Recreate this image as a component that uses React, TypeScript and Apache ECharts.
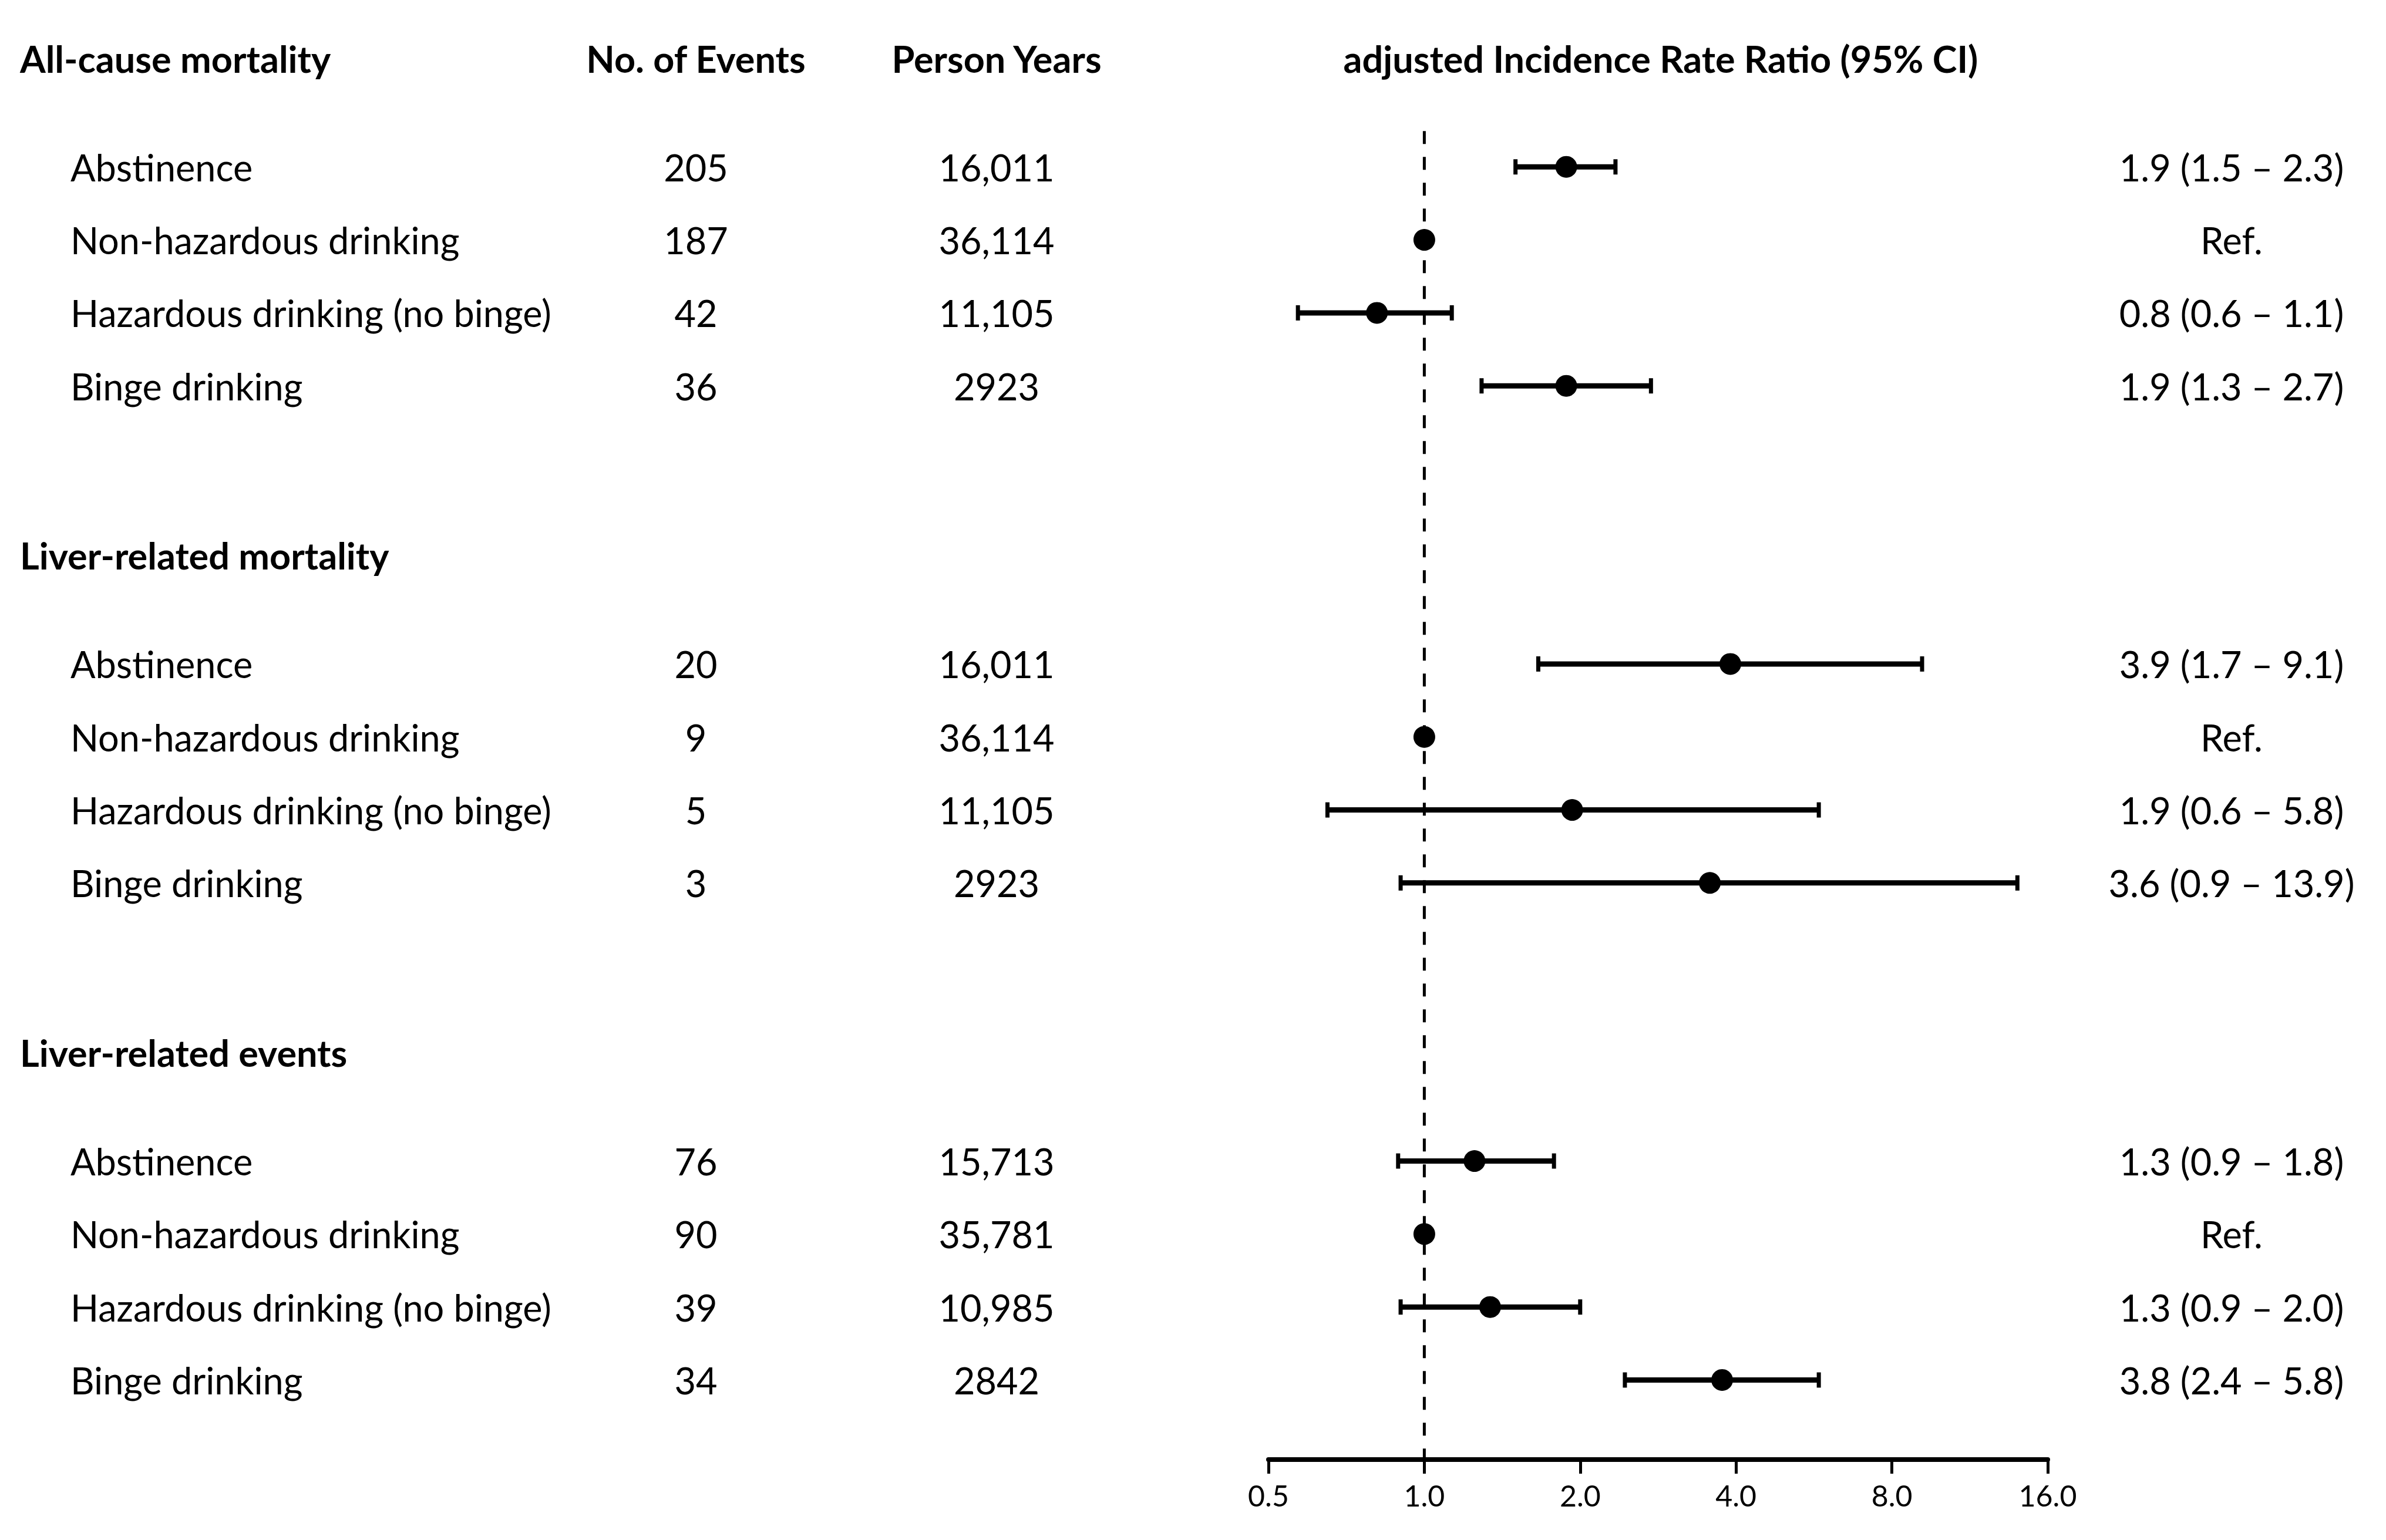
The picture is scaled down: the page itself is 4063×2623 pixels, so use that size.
import React, { useEffect, useRef } from "react";
import * as echarts from "echarts";

// ---------- data ----------
const sectionTitles = ["All-cause mortality", "Liver-related mortality", "Liver-related events"];
const groupLabels = ["Abstinence", "Non-hazardous drinking", "Hazardous drinking (no binge)", "Binge drinking"];
const columnHeaders = ["No. of Events", "Person Years", "adjusted Incidence Rate Ratio (95% CI)"];

const eventsAllCause = ["205", "187", "42", "36"];
const eventsLiverMortality = ["20", "9", "5", "3"];
const eventsLiverEvents = ["76", "90", "39", "34"];

const personYearsAllCause = ["16,011", "36,114", "11,105", "2923"];
const personYearsLiverMortality = ["16,011", "36,114", "11,105", "2923"];
const personYearsLiverEvents = ["15,713", "35,781", "10,985", "2842"];

const irrAllCause = [1.88, 1, 0.81, 1.88];
const lowAllCause = [1.5, null, 0.57, 1.29];
const highAllCause = [2.34, null, 1.13, 2.74];

const irrLiverMortality = [3.9, 1, 1.93, 3.56];
const lowLiverMortality = [1.66, null, 0.65, 0.9];
const highLiverMortality = [9.15, null, 5.78, 13.98];

const irrLiverEvents = [1.25, 1, 1.34, 3.76];
const lowLiverEvents = [0.89, null, 0.9, 2.44];
const highLiverEvents = [1.78, null, 2.0, 5.78];

const ciLabelsAllCause = ["1.9 (1.5 – 2.3)", "Ref.", "0.8 (0.6 – 1.1)", "1.9 (1.3 – 2.7)"];
const ciLabelsLiverMortality = ["3.9 (1.7 – 9.1)", "Ref.", "1.9 (0.6 – 5.8)", "3.6 (0.9 – 13.9)"];
const ciLabelsLiverEvents = ["1.3 (0.9 – 1.8)", "Ref.", "1.3 (0.9 – 2.0)", "3.8 (2.4 – 5.8)"];

const xTickLabels = ["0.5", "1.0", "2.0", "4.0", "8.0", "16.0"];
const referenceValue = 1;

// ---------- layout ----------
const W = 4063;
const H = 2623;
const FONT = "Lato";
const TEXT_SIZE = 63;
const HEAD_SIZE = 63;
const SECTION_STEP = 6.81;
const FIRST_ROW = 1.49;
const Y_MAX = 19.2;
const DASH_TOP = 1.0;
const X_SECTION = 34;
const X_GROUP = 120;
const X_EVENTS = 1185;
const X_PY = 1697;
const X_IRR_HEAD = 2828;
const X_CI = 3800;
const PLOT_LEFT = 2160;
const PLOT_RIGHT = 3487;

const sections = [
  { events: eventsAllCause, py: personYearsAllCause, irr: irrAllCause, low: lowAllCause, high: highAllCause, ci: ciLabelsAllCause },
  { events: eventsLiverMortality, py: personYearsLiverMortality, irr: irrLiverMortality, low: lowLiverMortality, high: highLiverMortality, ci: ciLabelsLiverMortality },
  { events: eventsLiverEvents, py: personYearsLiverEvents, irr: irrLiverEvents, low: lowLiverEvents, high: highLiverEvents, ci: ciLabelsLiverEvents },
];

type TextItem = { text: string; x: number; y: number; align: string; bold: boolean };

function buildTexts(): TextItem[] {
  const items: TextItem[] = [];
  items.push({ text: columnHeaders[0], x: X_EVENTS, y: 0, align: "center", bold: true });
  items.push({ text: columnHeaders[1], x: X_PY, y: 0, align: "center", bold: true });
  items.push({ text: columnHeaders[2], x: X_IRR_HEAD, y: 0, align: "center", bold: true });
  sections.forEach((s, k) => {
    const base = k * SECTION_STEP;
    items.push({ text: sectionTitles[k], x: X_SECTION, y: base, align: "left", bold: true });
    groupLabels.forEach((g, i) => {
      const y = base + FIRST_ROW + i;
      items.push({ text: g, x: X_GROUP, y, align: "left", bold: false });
      items.push({ text: s.events[i], x: X_EVENTS, y, align: "center", bold: false });
      items.push({ text: s.py[i], x: X_PY, y, align: "center", bold: false });
      items.push({ text: s.ci[i], x: X_CI, y, align: "center", bold: false });
    });
  });
  return items;
}

export default function App() {
  const ref = useRef<HTMLDivElement>(null);
  useEffect(() => {
    document.body.style.margin = "0";
    if (!ref.current) return;
    const chart = echarts.init(ref.current, undefined, { renderer: "svg" });

    const texts = buildTexts();
    const points: number[][] = [];
    const bars: number[][] = [];
    sections.forEach((s, k) => {
      s.irr.forEach((v, i) => {
        const y = k * SECTION_STEP + FIRST_ROW + i;
        points.push([v, y]);
        const lo = s.low[i];
        const hi = s.high[i];
        if (lo != null && hi != null) bars.push([lo, hi, y]);
      });
    });

    chart.setOption({
      animation: false,
      backgroundColor: "#fff",
      grid: { left: PLOT_LEFT, right: W - PLOT_RIGHT, top: 99, bottom: H - 2486 },
      xAxis: {
        type: "log",
        logBase: 2,
        min: 0.5,
        max: 16,
        interval: 1,
        axisLine: { show: true, onZero: false, lineStyle: { color: "#000", width: 8 } },
        axisTick: { show: true, length: 24, lineStyle: { color: "#000", width: 5 } },
        axisLabel: {
          color: "#000",
          fontFamily: FONT,
          fontSize: 50,
          margin: 36,
          formatter: (v: number) => {
            const idx = Math.round(Math.log2(v)) + 1;
            return xTickLabels[idx] ?? String(v);
          },
        },
        splitLine: { show: false },
        minorTick: { show: false },
      },
      yAxis: { type: "value", inverse: true, min: 0, max: Y_MAX, show: false },
      series: [
        {
          type: "line",
          data: [[referenceValue, DASH_TOP], [referenceValue, Y_MAX]],
          symbol: "none",
          silent: true,
          lineStyle: { color: "#000", width: 5, type: [22, 22] },
          z: 1,
        },
        {
          type: "custom",
          data: bars,
          encode: { x: [0, 1], y: 2 },
          silent: true,
          z: 2,
          renderItem: (params: any, api: any) => {
            const y = api.value(2);
            const p1 = api.coord([api.value(0), y]);
            const p2 = api.coord([api.value(1), y]);
            const capH = 13;
            const st = { stroke: "#000", lineWidth: 9 };
            const cs = { stroke: "#000", lineWidth: 7 };
            return {
              type: "group",
              children: [
                { type: "line", shape: { x1: p1[0], y1: p1[1], x2: p2[0], y2: p2[1] }, style: st },
                { type: "line", shape: { x1: p1[0], y1: p1[1] - capH, x2: p1[0], y2: p1[1] + capH }, style: cs },
                { type: "line", shape: { x1: p2[0], y1: p2[1] - capH, x2: p2[0], y2: p2[1] + capH }, style: cs },
              ],
            };
          },
        },
        {
          type: "scatter",
          data: points,
          symbol: "circle",
          symbolSize: 37,
          itemStyle: { color: "#000", opacity: 1 },
          silent: true,
          z: 3,
        },
        {
          type: "custom",
          data: texts.map((t) => [referenceValue, t.y]),
          encode: { x: 0, y: 1 },
          silent: true,
          z: 4,
          renderItem: (params: any, api: any) => {
            const t = texts[params.dataIndex];
            const p = api.coord([referenceValue, api.value(1)]);
            return {
              type: "text",
              x: t.x,
              y: p[1],
              style: {
                text: t.text,
                fontFamily: FONT,
                fontSize: t.bold ? HEAD_SIZE : TEXT_SIZE,
                fontWeight: t.bold ? "bold" : "normal",
                fill: "#000",
                align: t.align,
                verticalAlign: "middle",
              },
            };
          },
        },
      ],
    });
    return () => chart.dispose();
  }, []);
  return <div ref={ref} style={{ width: W, height: H }} />;
}
